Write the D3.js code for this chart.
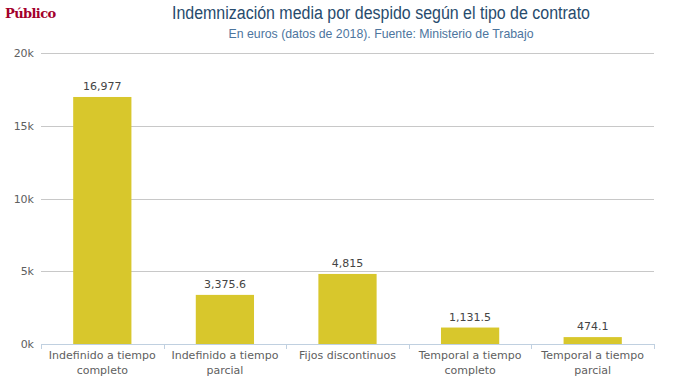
<!DOCTYPE html>
<html><head><meta charset="utf-8">
<script src="https://cdnjs.cloudflare.com/ajax/libs/d3/7.8.5/d3.min.js"></script>
<style>body{margin:0;background:#fff;}svg{display:block;}</style>
</head><body>
<script>
const categories = ["Indefinido a tiempo completo","Indefinido a tiempo parcial","Fijos discontinuos","Temporal a tiempo completo","Temporal a tiempo parcial"];
const labelLines = [["Indefinido a tiempo","completo"],["Indefinido a tiempo","parcial"],["Fijos discontinuos"],["Temporal a tiempo","completo"],["Temporal a tiempo","parcial"]];
const values = [16977, 3375.6, 4815, 1131.5, 474.1];
const valueLabels = ["16,977","3,375.6","4,815","1,131.5","474.1"];
const yTicks = [0, 5000, 10000, 15000, 20000];
const yTickLabels = ["0k","5k","10k","15k","20k"];

const W = 678, H = 379;
const m = {left: 41, right: 24, top: 53, bottom: 35};
const svg = d3.select("body").append("svg").attr("width", W).attr("height", H);

const x = d3.scaleBand().domain(categories).range([m.left, W - m.right]).paddingInner(0.525).paddingOuter(0.2625);
const y = d3.scaleLinear().domain([0, 20000]).range([H - m.bottom, m.top]);

// title
svg.append("text").attr("x", 381).attr("y", 19).attr("text-anchor", "middle")
  .attr("textLength", 418).attr("lengthAdjust", "spacingAndGlyphs")
  .style("font-family", "'Liberation Sans', Arial, sans-serif").style("font-size", "18px")
  .attr("fill", "#274b6d").text("Indemnización media por despido según el tipo de contrato");
svg.append("text").attr("x", 381).attr("y", 38).attr("text-anchor", "middle")
  .attr("textLength", 305).attr("lengthAdjust", "spacingAndGlyphs")
  .style("font-family", "'Liberation Sans', Arial, sans-serif").style("font-size", "13px")
  .attr("fill", "#4d759e").text("En euros (datos de 2018). Fuente: Ministerio de Trabajo");
svg.append("text").attr("x", 5).attr("y", 18)
  .style("font-family", "'DejaVu Serif', serif").style("font-size", "13px").style("font-weight", "bold")
  .style("letter-spacing", "-0.6px")
  .attr("fill", "#a3002b").text("Público");

// grid
svg.append("g").selectAll("line").data(yTicks.slice(1)).join("line")
  .attr("x1", m.left).attr("x2", W - m.right)
  .attr("y1", d => Math.round(y(d)) + 0.5).attr("y2", d => Math.round(y(d)) + 0.5)
  .attr("stroke", "#c8c8c8").attr("stroke-width", 1);

// y labels
svg.append("g").selectAll("text").data(yTicks).join("text")
  .attr("x", 34).attr("y", d => y(d) + 4).attr("text-anchor", "end")
  .style("font-family", "'DejaVu Sans', sans-serif").style("font-size", "11px")
  .attr("fill", "#606060").text((d, i) => yTickLabels[i]);

// bars
svg.append("g").selectAll("rect").data(values).join("rect")
  .attr("x", (d, i) => x(categories[i])).attr("width", x.bandwidth())
  .attr("y", d => y(d)).attr("height", d => y(0) - y(d))
  .attr("fill", "#d8c72c");

// data labels
svg.append("g").selectAll("text").data(values).join("text")
  .attr("x", (d, i) => x(categories[i]) + x.bandwidth() / 2)
  .attr("y", d => y(d) - 7).attr("text-anchor", "middle")
  .style("font-family", "'DejaVu Sans', sans-serif").style("font-size", "11px")
  .attr("fill", "#444").text((d, i) => valueLabels[i]);

// x axis line
const x0 = m.left, x1 = W - m.right;
svg.append("line").attr("x1", x0).attr("x2", x1).attr("y1", y(0) + 0.5).attr("y2", y(0) + 0.5)
  .attr("stroke", "#c0d0e0").attr("stroke-width", 1);
const bounds = d3.range(categories.length + 1).map(i => x0 + i * (x1 - x0) / categories.length);
svg.append("g").selectAll("line").data(bounds).join("line")
  .attr("x1", d => Math.round(d) + 0.5).attr("x2", d => Math.round(d) + 0.5)
  .attr("y1", y(0)).attr("y2", y(0) + 5)
  .attr("stroke", "#c0d0e0");

// x labels
const xl = svg.append("g").selectAll("text").data(categories).join("text")
  .attr("x", d => x(d) + x.bandwidth() / 2).attr("y", y(0) + 15).attr("text-anchor", "middle")
  .style("font-family", "'DejaVu Sans', sans-serif").style("font-size", "11px")
  .attr("fill", "#606060");
xl.each(function(d, i) {
  const t = d3.select(this);
  labelLines[i].forEach((ln, j) => {
    t.append("tspan").attr("x", x(d) + x.bandwidth() / 2).attr("dy", j === 0 ? 0 : 15).text(ln);
  });
});
</script>
</body></html>
